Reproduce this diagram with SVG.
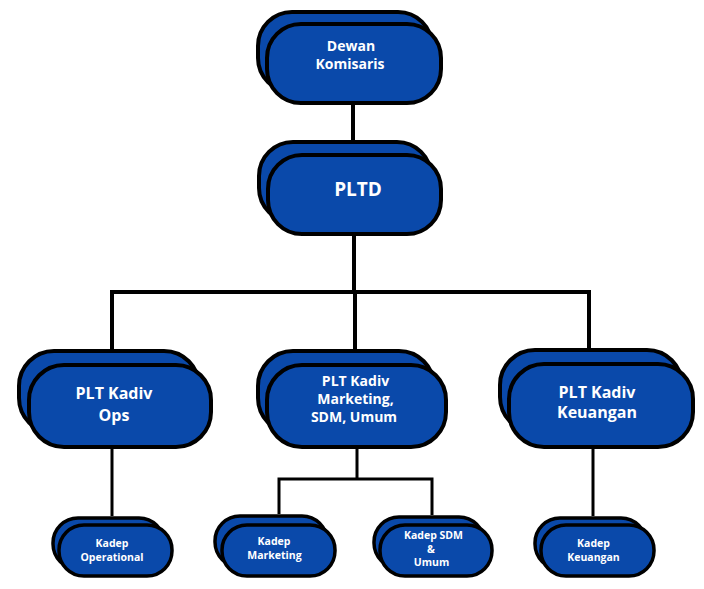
<svg xmlns="http://www.w3.org/2000/svg" width="704" height="589" viewBox="0 0 704 589">
<style>
.box{fill:#0a49aa;stroke:#000;stroke-width:4}
.sm{fill:#0a49aa;stroke:#000;stroke-width:3.5}
.t{font-family:"Open Sans","Noto Sans","Liberation Sans",sans-serif;font-weight:bold;fill:#fff;text-anchor:middle}
.ln{stroke:#000;fill:none;stroke-width:4}
.ln2{stroke:#000;fill:none;stroke-width:3}
</style>
<rect width="704" height="589" fill="#fff"/>
<g id="connectors">
<path class="ln" d="M353 104V153"/>
<path class="ln" d="M354 235V292M112 349V292H589V348M355 292V349"/>
<path class="ln2" d="M112 448V516"/>
<path class="ln2" d="M357 448V479M279 514V479H432V515"/>
<path class="ln2" d="M593 448V516"/>
</g>
<g id="dewan">
<rect class="box" x="258" y="12" width="174" height="80" rx="34"/>
<rect class="box" x="267" y="24" width="174" height="79" rx="34"/>
<text class="t" font-size="14"><tspan x="351" y="51">Dewan</tspan><tspan x="350" y="69">Komisaris</tspan></text>
</g>
<g id="pltd">
<rect class="box" x="259" y="142" width="172" height="80" rx="34"/>
<rect class="box" x="268" y="155" width="173" height="79" rx="34"/>
<text class="t" font-size="19" x="358" y="196">PLTD</text>
</g>
<g id="ops">
<rect class="box" x="19" y="351" width="180" height="82" rx="35"/>
<rect class="box" x="29" y="365" width="182" height="82" rx="35"/>
<text class="t" font-size="16"><tspan x="114" y="399">PLT Kadiv</tspan><tspan x="114" y="421">Ops</tspan></text>
</g>
<g id="marketing">
<rect class="box" x="258" y="351" width="176" height="82" rx="35"/>
<rect class="box" x="267" y="365" width="179" height="82" rx="35"/>
<text class="t" font-size="14"><tspan x="355.5" y="386">PLT Kadiv</tspan><tspan x="355.5" y="404">Marketing,</tspan><tspan x="354" y="422">SDM, Umum</tspan></text>
</g>
<g id="keuangan">
<rect class="box" x="500" y="350" width="182" height="82" rx="35"/>
<rect class="box" x="509" y="364" width="184" height="83" rx="35"/>
<text class="t" font-size="16"><tspan x="597" y="398">PLT Kadiv</tspan><tspan x="597" y="418">Keuangan</tspan></text>
</g>
<g id="kadep-operational">
<rect class="sm" x="53" y="518" width="111" height="51" rx="25"/>
<rect class="sm" x="59" y="525" width="113" height="51" rx="25"/>
<text class="t" font-size="10.5"><tspan x="112" y="547">Kadep</tspan><tspan x="112" y="561">Operational</tspan></text>
</g>
<g id="kadep-marketing">
<rect class="sm" x="215" y="516" width="112" height="51" rx="25"/>
<rect class="sm" x="222" y="525" width="113" height="51" rx="25"/>
<text class="t" font-size="10.5"><tspan x="274" y="545">Kadep</tspan><tspan x="274.5" y="559">Marketing</tspan></text>
</g>
<g id="kadep-sdm">
<rect class="sm" x="374" y="517" width="110" height="51" rx="25"/>
<rect class="sm" x="380" y="525" width="112" height="51" rx="25"/>
<text class="t" font-size="10.5"><tspan x="433.5" y="539">Kadep SDM</tspan><tspan x="431" y="552.5">&amp;</tspan><tspan x="431.5" y="566">Umum</tspan></text>
</g>
<g id="kadep-keuangan">
<rect class="sm" x="535" y="518" width="111" height="51" rx="25"/>
<rect class="sm" x="541" y="525" width="113" height="51" rx="25"/>
<text class="t" font-size="10.5"><tspan x="593.5" y="547">Kadep</tspan><tspan x="593.5" y="561">Keuangan</tspan></text>
</g>
</svg>
